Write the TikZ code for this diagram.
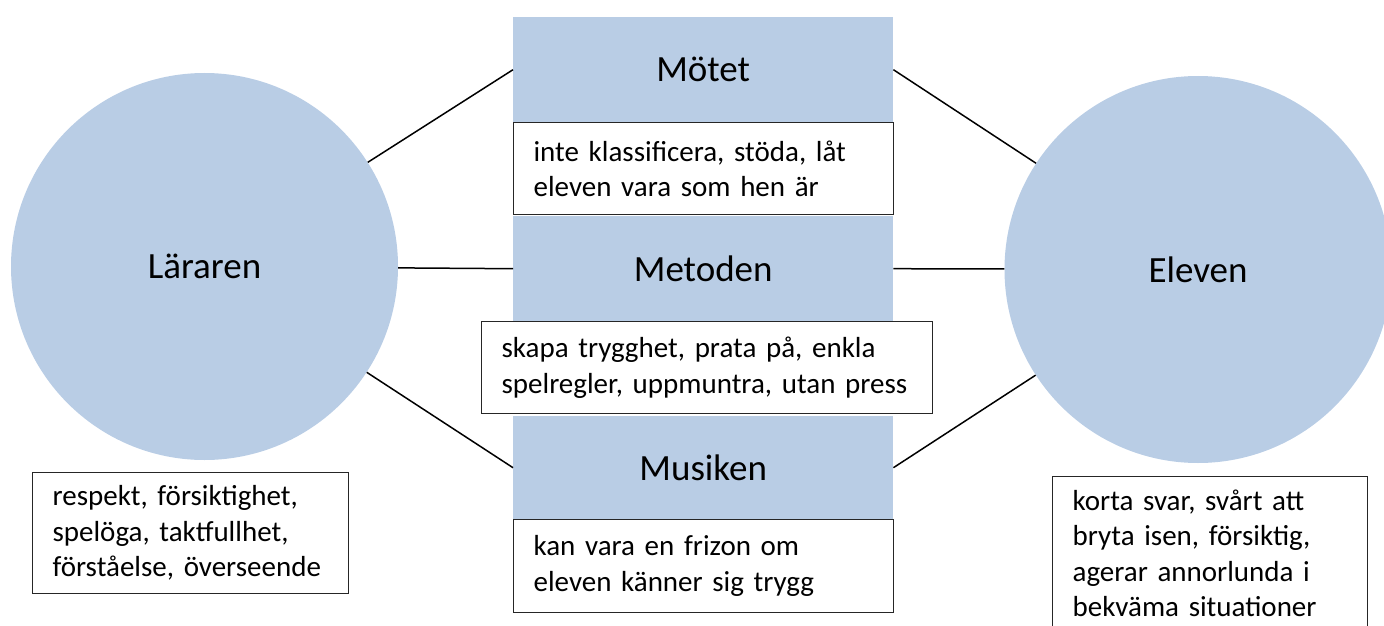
\documentclass[tikz,border=0pt]{standalone}
\usepackage{fontspec}
\setmainfont{Carlito}
\definecolor{boxblue}{HTML}{B9CDE5}
\begin{document}
\begin{tikzpicture}[x=1pt,y=-1pt,
  circ/.style={circle, fill=boxblue, minimum size=387pt, inner sep=0pt, font=\fontsize{37}{44}\selectfont},
  head/.style={fill=boxblue, minimum width=380pt, inner sep=0pt, anchor=north west, font=\fontsize{37}{44}\selectfont},
  note/.style={draw=black!85, line width=1.2pt, fill=white, anchor=north west, align=left, inner xsep=20pt, inner ysep=13pt, font=\fontsize{29}{35.5}\selectfont},
  link/.style={line width=1.5pt}]
\useasboundingbox (0,0) rectangle (1384,626);
\clip (0,0) rectangle (1384,626);
% circles
\node[circ] (lar) at (204.5,266.5) {Läraren};
\node[circ] (ele) at (1198,269.5) {Eleven};
% centre column
\node[head, minimum height=105pt] (mot) at (513,17) {Mötet};
\node[head, minimum height=105pt] (met) at (513,216) {Metoden};
\node[head, minimum height=103pt] (mus) at (513,416) {Musiken};
% notes
\node[note, text width=340pt, minimum height=92pt] (motn) at (513,122) {inte klassificera, stöda, låt\\eleven vara som hen är};
\node[note, text width=411pt, minimum height=92pt] (metn) at (481,321) {skapa trygghet, prata på, enkla\\spelregler, uppmuntra, utan press};
\node[note, text width=340pt, minimum height=93pt] (musn) at (513,519) {kan vara en frizon om\\eleven känner sig trygg};
\node[note, text width=276pt, minimum height=121pt] (larn) at (32,472) {respekt, försiktighet,\\spelöga, taktfullhet,\\förståelse, överseende};
\node[note, text width=275pt] (elen) at (1052,476) {korta svar, svårt att\\bryta isen, försiktig,\\agerar annorlunda i\\bekväma situationer};
% connectors
\draw[link] (lar) -- (mot.west);
\draw[link] (lar) -- (met.west);
\draw[link] (lar) -- (mus.west);
\draw[link] (mot.east) -- (ele);
\draw[link] (met.east) -- (ele);
\draw[link] (mus.east) -- (ele);
\end{tikzpicture}
\end{document}
